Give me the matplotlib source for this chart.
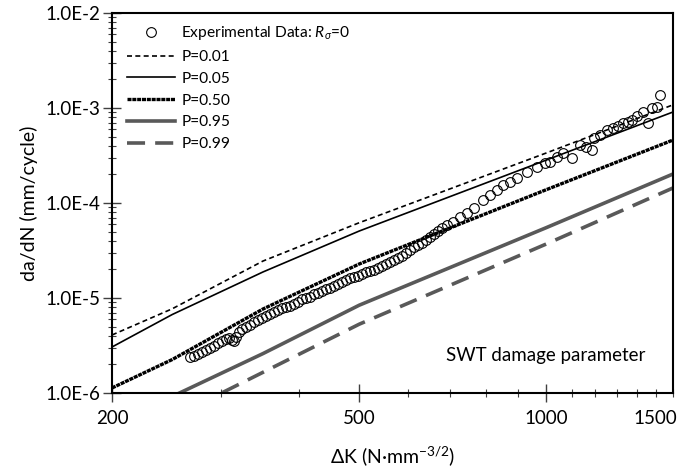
import math
import matplotlib
matplotlib.use('Agg')
import matplotlib.pyplot as plt
import matplotlib.ticker as mticker

plt.rcParams['font.family'] = ['Lato', 'DejaVu Sans']
plt.rcParams['mathtext.fontset'] = 'custom'
plt.rcParams['mathtext.rm'] = 'Lato'
plt.rcParams['mathtext.it'] = 'Lato:italic'

# experimental data, R_sigma = 0
dk_exp = [267, 271, 275, 279, 283, 288, 292, 296, 301, 305, 309, 312, 314, 317, 320,
          324, 329, 334, 339, 344, 349, 354, 359, 365, 370, 376, 381, 387, 393, 398,
          405, 411, 417, 423, 429, 436, 442, 449, 456, 462, 469, 476, 483, 491, 498,
          505, 513, 521, 528, 536, 544, 552, 561, 569, 577, 586, 595, 604, 613, 622,
          631, 641, 650, 660, 670, 680, 693, 708, 727, 746, 765, 791, 812, 834, 852,
          875, 898, 932, 967, 996, 1015, 1042, 1065, 1101, 1134, 1160, 1186, 1195, 1221,
          1254, 1282, 1306, 1330, 1355, 1376, 1401, 1433, 1459, 1481, 1509, 1526]
dadn_exp = [2.39e-6, 2.45e-6, 2.57e-6, 2.70e-6, 2.84e-6, 2.98e-6, 3.12e-6, 3.36e-6, 3.53e-6,
            3.70e-6, 3.79e-6, 3.61e-6, 3.53e-6, 3.89e-6, 4.39e-6, 4.72e-6, 4.95e-6, 5.20e-6,
            5.59e-6, 5.87e-6, 6.16e-6, 6.47e-6, 6.79e-6, 7.12e-6, 7.48e-6, 7.85e-6, 8.04e-6,
            8.24e-6, 8.65e-6, 9.08e-6, 9.76e-6, 1.00e-5, 1.02e-5, 1.10e-5, 1.13e-5, 1.19e-5,
            1.24e-5, 1.27e-5, 1.34e-5, 1.40e-5, 1.47e-5, 1.55e-5, 1.62e-5, 1.66e-5, 1.71e-5,
            1.79e-5, 1.88e-5, 1.92e-5, 1.97e-5, 2.07e-5, 2.17e-5, 2.28e-5, 2.39e-5, 2.51e-5,
            2.64e-5, 2.77e-5, 2.98e-5, 3.20e-5, 3.44e-5, 3.61e-5, 3.79e-5, 4.08e-5, 4.39e-5,
            4.72e-5, 5.07e-5, 5.46e-5, 5.87e-5, 6.31e-5, 7.12e-5, 7.85e-5, 8.86e-5, 1.08e-4,
            1.21e-4, 1.37e-4, 1.55e-4, 1.66e-4, 1.83e-4, 2.12e-4, 2.39e-4, 2.64e-4, 2.70e-4,
            3.05e-4, 3.36e-4, 2.98e-4, 4.08e-4, 3.89e-4, 3.61e-4, 4.83e-4, 5.20e-4, 5.87e-4,
            6.16e-4, 6.47e-4, 6.95e-4, 7.12e-4, 7.48e-4, 8.24e-4, 9.08e-4, 6.95e-4, 1.00e-3,
            1.02e-3, 1.37e-3]

# model curves (SWT damage parameter)
dk_p = [200, 250, 350, 500, 1000, 1600]
p001 = [4.08e-6, 7.7e-6, 2.45e-5, 6.2e-5, 3.36e-4, 1.08e-3]
p005 = [3.05e-6, 6.7e-6, 1.88e-5, 5.07e-5, 2.83e-4, 9.08e-4]
p050 = [1.13e-6, 2.25e-6, 7.66e-6, 2.28e-5, 1.38e-4, 4.6e-4]
dk_p95 = [250, 350, 500, 1000, 1600]
p095 = [9.2e-7, 2.6e-6, 8.4e-6, 5.5e-5, 2.02e-4]
dk_p99 = [250, 500, 1000, 1600]
p099 = [5.5e-7, 5.3e-6, 3.7e-5, 1.44e-4]

gray = '#595959'

fig = plt.figure(figsize=(6.85, 4.73), dpi=100)
ax = fig.add_axes([0.1635, 0.1691, 0.819, 0.8034])

ax.plot(dk_exp, dadn_exp, 'o', ms=7, mfc='none', mec='black', mew=0.8,
        label=r'Experimental Data: $\mathit{R}_{\sigma}$=0', zorder=3)
ax.plot(dk_p, p001, color='black', lw=1.2, dashes=(3, 2), label='P=0.01')
ax.plot(dk_p, p005, color='black', lw=1.2, label='P=0.05')
ax.plot(dk_p, p050, color='black', lw=2.4, dashes=(1.2, 0.25), label='P=0.50')
ax.plot(dk_p95, p095, color=gray, lw=2.6, label='P=0.95')
ax.plot(dk_p99, p099, color=gray, lw=2.6, dashes=(5, 2.8), label='P=0.99')

ax.set_xscale('log')
ax.set_yscale('log')
ax.set_xlim(200, 1600)
ax.set_ylim(1e-6, 1e-2)

ax.xaxis.set_major_locator(mticker.FixedLocator([200, 500, 1000]))
ax.xaxis.set_major_formatter(mticker.FixedFormatter(['200', '500', '1000']))
ax.xaxis.set_minor_locator(mticker.FixedLocator(
    [300, 400, 600, 700, 800, 900, 1100, 1200, 1300, 1400, 1500, 1600]))
ax.xaxis.set_minor_formatter(mticker.FuncFormatter(
    lambda v, pos: '1500' if abs(v - 1500) < 1 else ''))

ax.yaxis.set_major_locator(mticker.LogLocator(base=10, numticks=10))
ax.yaxis.set_major_formatter(mticker.FuncFormatter(
    lambda v, pos: '1.0E%d' % round(math.log10(v))))
ax.yaxis.set_minor_locator(mticker.LogLocator(base=10, subs=range(2, 10), numticks=10))
ax.yaxis.set_minor_formatter(mticker.NullFormatter())

ax.tick_params(which='major', direction='inout', length=13, width=1, color='#404040',
               labelsize=13.5)
ax.tick_params(which='minor', direction='inout', length=6, width=0.8, color='#404040',
               labelsize=13.5)
ax.tick_params(axis='x', which='major', pad=6)
ax.tick_params(axis='x', which='minor', pad=9.5)
ax.tick_params(axis='y', which='major', pad=2)
for s in ax.spines.values():
    s.set_linewidth(1.5)

ax.set_xlabel(r'ΔK (N·mm$^{-3/2}$)', fontsize=14, labelpad=12)
ax.set_ylabel('da/dN (mm/cycle)', fontsize=14, labelpad=5)

ax.text(0.95, 0.1, 'SWT damage parameter', transform=ax.transAxes,
        ha='right', va='center', fontsize=13.5)

ax.legend(loc='upper left', bbox_to_anchor=(0.01, 0.995), frameon=False,
          fontsize=11.2, handlelength=3.1, handletextpad=0.4, labelspacing=0.5,
          borderaxespad=0.2)

fig.savefig('out.png', dpi=100)
